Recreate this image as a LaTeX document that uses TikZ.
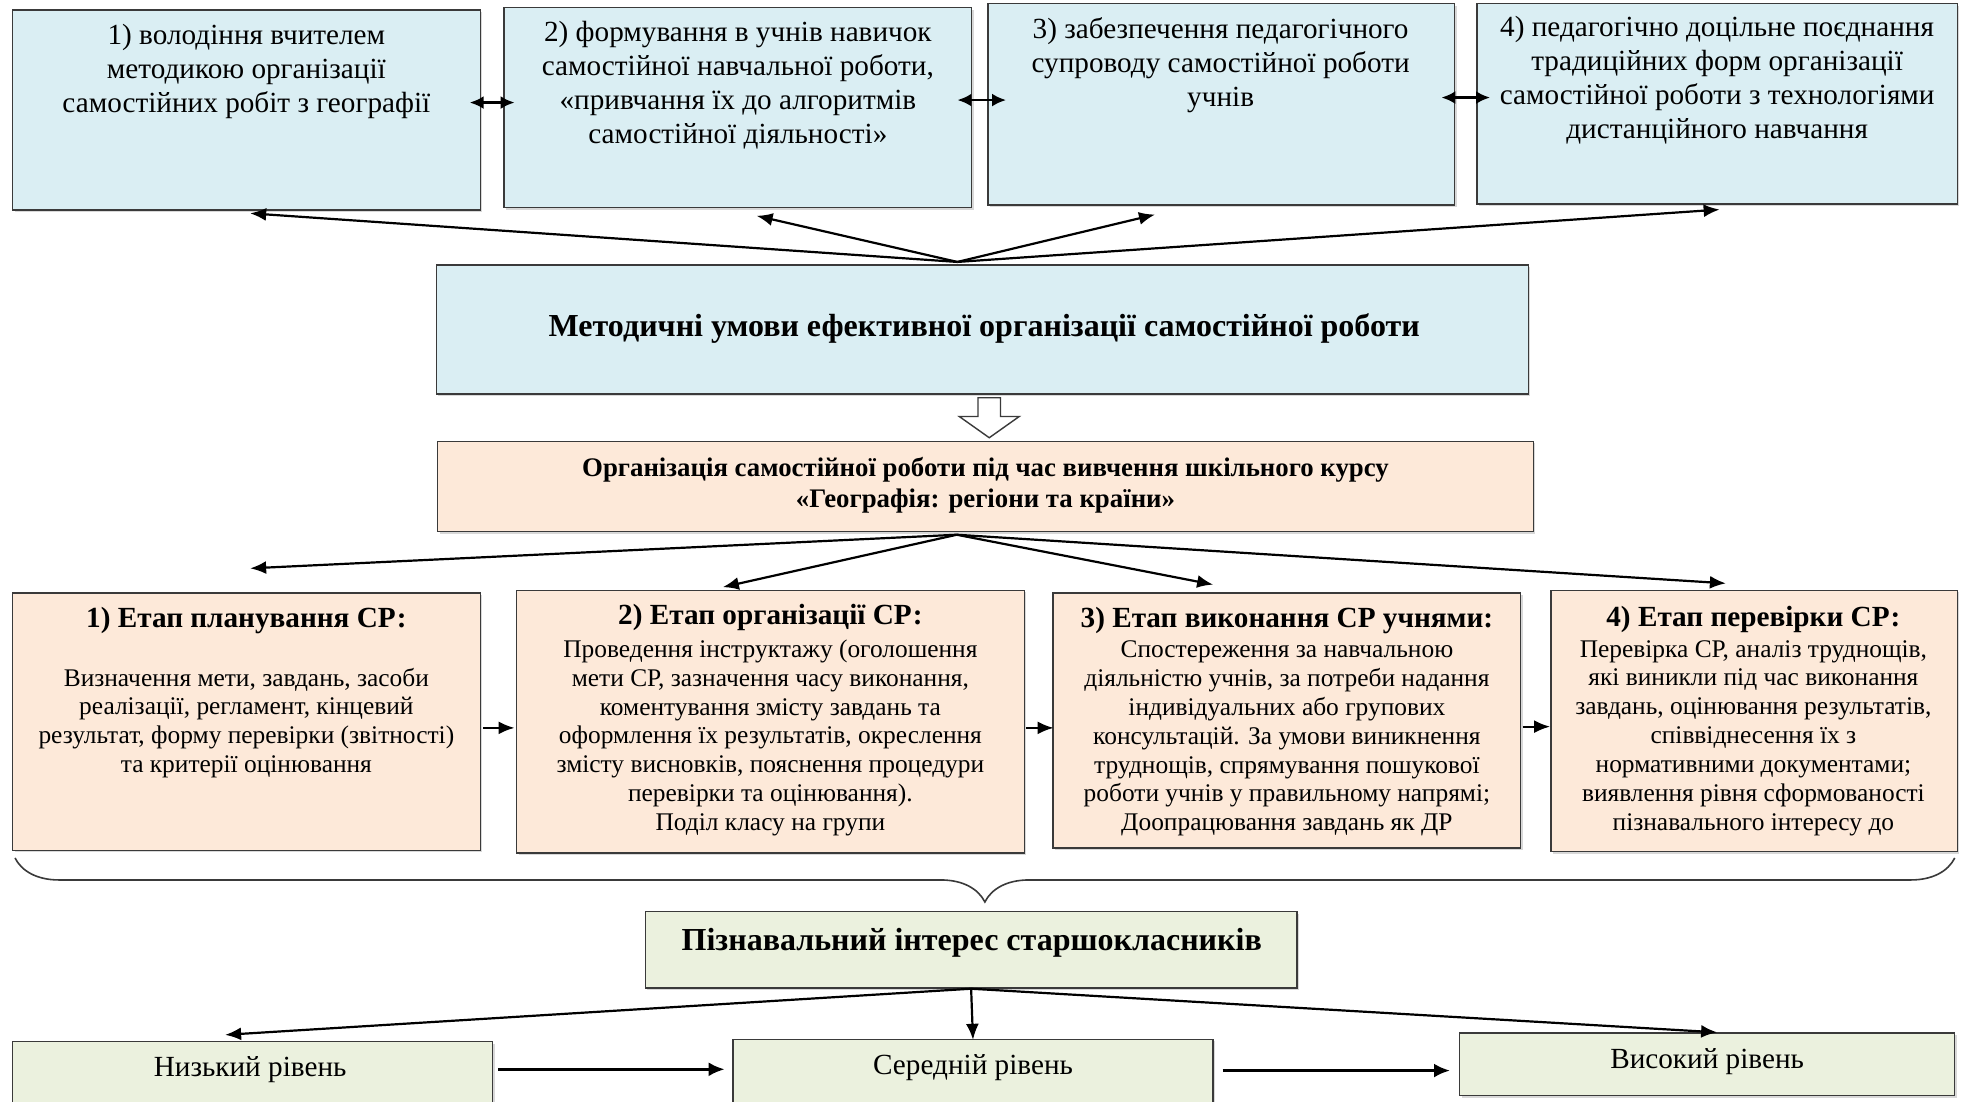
\documentclass[tikz,border=0pt]{standalone}
\usepackage{fontspec}
\setmainfont{Liberation Serif}
\usetikzlibrary{arrows.meta,calc,fit,decorations.pathreplacing,shadows}
\definecolor{blu}{HTML}{DAEEF3}
\definecolor{pch}{HTML}{FDE9D9}
\definecolor{grn}{HTML}{EBF1DE}
\definecolor{edge}{HTML}{3A3A3A}
\begin{document}
\begin{tikzpicture}[x=0.625pt,y=-0.625pt,
  box/.style={draw=edge, line width=0.7pt, inner sep=0pt,
    drop shadow={shadow xshift=1pt,shadow yshift=-1pt,opacity=0.3}},
  bluebox/.style={box, fill=blu},
  peachbox/.style={box, fill=pch},
  greenbox/.style={box, fill=grn},
  txt/.style={align=center, inner sep=0pt, font=\fontsize{14.6}{17}\selectfont},
  ttl/.style={align=center, inner sep=0pt, font=\bfseries\fontsize{14.6}{17}\selectfont},
  body/.style={align=center, inner sep=0pt, font=\fontsize{12.7}{14.4}\selectfont},
  arr/.style={-{Latex[length=8pt,width=6.5pt]}, line width=1.1pt},
  biarr/.style={{Latex[length=7pt,width=6.5pt]}-{Latex[length=7pt,width=6.5pt]}, line width=1.3pt},
  thick arr/.style={-{Latex[length=8pt,width=7pt]}, line width=1.5pt},
]
\useasboundingbox[fill=white] (0,0) rectangle (1568,881);

% top row
\node[bluebox, fit={(10,8) (384,168)}] (b1) {};
\node[bluebox, fit={(403,6) (777,166)}] (b2) {};
\node[bluebox, fit={(790,3) (1163,164)}] (b3) {};
\node[bluebox, fit={(1181,3) (1565,163)}] (b4) {};
\node[txt] (t1) at (197,57) {1) володіння вчителем\\методикою організації\\самостійних робіт з географії};
\node[txt] (t2) at (590,68) {2) формування в учнів навичок\\самостійної навчальної роботи,\\«привчання їх до алгоритмів\\самостійної діяльності»};
\node[txt] (t3) at (976,52) {3) забезпечення педагогічного\\супроводу самостійної роботи\\учнів};
\node[txt] (t4) at (1373,64) {4) педагогічно доцільне поєднання\\традиційних форм організації\\самостійної роботи з технологіями\\дистанційного навчання};

\draw[biarr] ($(b1.east)+(-9,-6)$) -- ($(b2.west)+(9,-4)$);
\draw[biarr] ($(b2.east)+(-12,-6)$) -- ($(b3.west)+(15,-3.5)$);
\draw[biarr] ($(b3.east)+(-11,-5.5)$) -- ($(b4.west)+(11,-5)$);

% methodical conditions
\node[bluebox, fit={(349,212) (1222,315)}] (m) {};
\node[ttl, font=\bfseries\fontsize{16}{19}\selectfont] (mt) at (787,263) {Методичні умови ефективної організації самостійної роботи};
\coordinate (mh) at ($(m.north)+(-20,-2)$);
\draw[arr] (mh) -- ($(b1.south)+(3,2)$);
\draw[arr] (mh) -- ($(b2.south)+(15,6)$);
\draw[arr] (mh) -- ($(b3.south)+(-53,7)$);
\draw[arr] (mh) -- ($(b4.south)+(2,4)$);

% hollow arrow
\draw[edge, fill=white, line width=0.7pt, line join=miter]
  (782,318) -- (800,318) -- (800,333) -- (815,333) -- (791,350) -- (767,333) -- (782,333) -- cycle;

% organisation box
\node[peachbox, fit={(350,353) (1226,425)}] (o) {};
\node[ttl, font=\bfseries\fontsize{13.4}{15.6}\selectfont] (ot) at (788,388) {Організація самостійної роботи під час вивчення шкільного курсу\\«Географія: регіони та країни»};
\coordinate (oh) at ($(o.south)+(-23,2)$);

% stages
\node[peachbox, fit={(10,474) (384,680)}] (s1) {};
\node[peachbox, fit={(413,472) (819,682)}] (s2) {};
\node[peachbox, fit={(842,474) (1216,678)}] (s3) {};
\node[peachbox, fit={(1240,472) (1565,681)}] (s4) {};

\draw[arr] (oh) -- ($(s1.north)+(3,-19)$);
\draw[arr] (oh) -- ($(s2.north)+(-38,-2)$);
\draw[arr] (oh) -- ($(s3.north)+(-59,-6)$);
\draw[arr] (oh) -- ($(s4.north)+(-22.5,-5)$);

\node[ttl] (s1t) at (197,496) {1) Етап планування СР:};
\node[body] (s1b) at (197,578) {Визначення мети, завдань, засоби\\реалізації, регламент, кінцевий\\результат, форму перевірки (звітності)\\та критерії оцінювання};
\node[ttl] (s2t) at (616,494) {2) Етап організації СР:};
\node[body] (s2b) at (616,590) {Проведення інструктажу (оголошення\\мети СР, зазначення часу виконання,\\коментування змісту завдань та\\оформлення їх результатів, окреслення\\змісту висновків, пояснення процедури\\перевірки та оцінювання).\\Поділ класу на групи};
\node[ttl] (s3t) at (1029,496) {3) Етап виконання СР учнями:};
\node[body] (s3b) at (1029,590.5) {Спостереження за навчальною\\діяльністю учнів, за потреби надання\\індивідуальних або групових\\консультацій. За умови виникнення\\труднощів, спрямування пошукової\\роботи учнів у правильному напрямі;\\Доопрацювання завдань як ДР};
\node[ttl] (s4t) at (1402,495) {4) Етап перевірки СР:};
\node[body] (s4b) at (1402,590) {Перевірка СР, аналіз труднощів,\\які виникли під час виконання\\завдань, оцінювання результатів,\\співвіднесення їх з\\нормативними документами;\\виявлення рівня сформованості\\пізнавального інтересу до};

\draw[arr] ($(s1.east)+(2,5)$) -- ($(s2.west)+(-1,5)$);
\draw[arr] ($(s2.east)+(1,5)$) -- ($(s3.west)+(1,6)$);
\draw[arr] ($(s3.east)+(1,5)$) -- ($(s4.west)+(0,4.5)$);

% brace
\draw[edge, line width=0.8pt, decorate, decoration={brace, mirror, amplitude=22pt}]
  (12,686) -- (1563,686);

% interest
\node[greenbox, fit={(516,729) (1037,790)}] (ib) {};
\node[ttl, font=\bfseries\fontsize{16}{19}\selectfont] (ibt) at (777,754) {Пізнавальний інтерес старшокласників};
\coordinate (ih) at (ib.south);

\node[greenbox, fit={(10,833) (394,900)}] (lo) {};
\node[greenbox, fit={(586,831) (970,900)}] (mi) {};
\node[greenbox, fit={(1167,826) (1563,876)}] (hi) {};
\node[txt] (lot) at (200,855) {Низький рівень};
\node[txt] (mit) at (778,854) {Середній рівень};
\node[txt] (hit) at (1365,849) {Високий рівень};

\draw[arr] (ih) -- ($(lo.north)+(-22,-5)$);
\draw[arr] (ih) -- ($(mi.north)+(0,1)$);
\draw[arr] (ih) -- ($(hi.north)+(8,0)$);

\draw[thick arr] ($(lo.east)+(4,-11.5)$) -- ($(mi.west)+(-6,-10.5)$);
\draw[thick arr] ($(mi.east)+(7,-9.5)$) -- ($(hi.west)+(-7,5)$);
\end{tikzpicture}
\end{document}
